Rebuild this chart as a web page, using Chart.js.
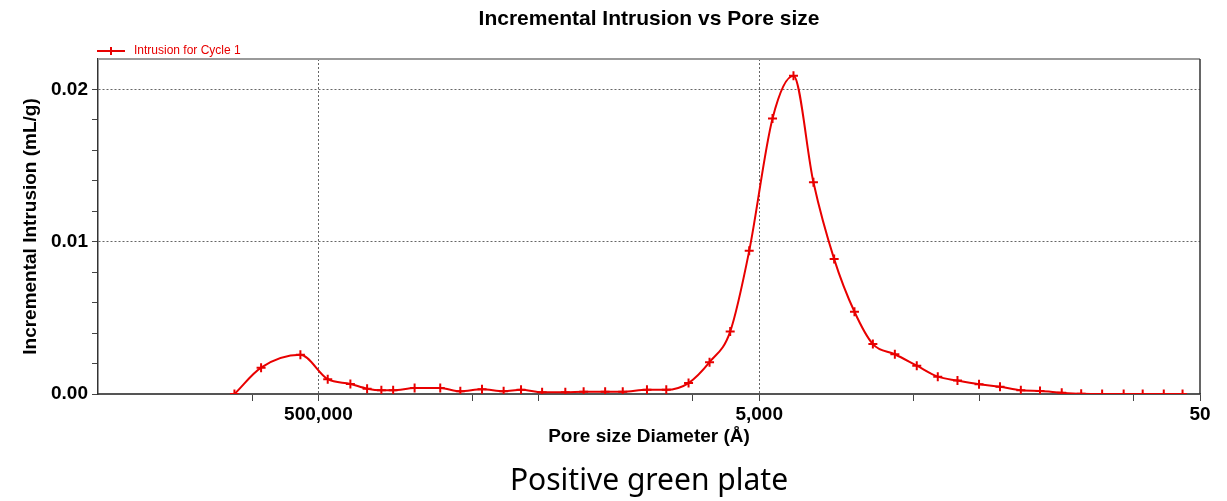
<!DOCTYPE html>
<html>
<head>
<meta charset="utf-8">
<script src="https://cdn.jsdelivr.net/npm/chart.js@4.4.1/dist/chart.umd.min.js"></script>
<style>
  body { margin: 0; background: #fff; }
  #wrap { position: relative; width: 1227px; height: 501px; }
</style>
</head>
<body>
<div id="wrap"><canvas id="myChart"></canvas></div>
<script>
// pore size diameter (Å) and incremental intrusion (mL/g)
const poreSize = [1202000, 910000, 603500, 453600, 358000, 300600, 259000, 229000, 183000, 140000,
    113500, 90500, 72200, 60200, 48300, 37900, 31300, 25000, 20800, 16150,
    13200, 10460, 8400, 6770, 5550, 4350, 3495, 2837, 2285, 1848,
    1525, 1212, 964, 774, 630, 503, 404, 325, 266, 212,
    173, 139, 111, 91, 73, 60];
const intrusion = [0, 0.00173, 0.00257, 0.00097, 0.00066, 0.00035, 0.00024, 0.00024, 0.00039, 0.00039,
    0.00018, 0.00031, 0.00018, 0.00028, 0.00011, 0.00011, 0.00015, 0.00015, 0.00015, 0.00028,
    0.00028, 0.00072, 0.00209, 0.0041, 0.0094, 0.0181, 0.0209, 0.0139, 0.00886, 0.0054,
    0.00328, 0.00261, 0.00186, 0.00114, 0.00088, 0.00064, 0.00048, 0.00024, 0.0002, 0.00009,
    0.00002, 0, 0, 0, 0, 0];

const xTicks = [1000000, 500000, 100000, 50000, 10000, 5000, 1000, 500, 100, 50];
const xLabelled = [500000, 5000, 50];
const yTicks = [0, 0.002, 0.004, 0.006, 0.008, 0.01, 0.012, 0.014, 0.016, 0.018, 0.02];
const yLabelled = [0, 0.01, 0.02];

const seriesName = 'Intrusion for Cycle 1';
const red = 'rgb(232,0,0)';
const bold = (size) => ({ family: 'Liberation Sans, Arial, sans-serif', size: size, weight: 'bold' });

// frame on top and right + the little legend at the top left
const framePlugin = {
    id: 'frame',
    beforeDatasetsDraw(chart) {
        const a = chart.chartArea, c = chart.ctx;
        c.save();
        c.strokeStyle = '#9a9a9a';
        c.lineWidth = 2;
        c.beginPath();
        c.moveTo(a.left, a.top);
        c.lineTo(a.right, a.top);
        c.stroke();
        c.strokeStyle = '#333';
        c.lineWidth = 1.5;
        c.beginPath();
        c.moveTo(a.right, a.top);
        c.lineTo(a.right, a.bottom);
        c.stroke();
        c.restore();
    },
    afterDraw(chart) {
        const c = chart.ctx;
        const y = 51;
        c.save();
        c.strokeStyle = red;
        c.lineWidth = 2;
        c.beginPath();
        c.moveTo(97, y);
        c.lineTo(125, y);
        c.moveTo(111, y - 4);
        c.lineTo(111, y + 4);
        c.stroke();
        c.fillStyle = red;
        c.font = '12px "Liberation Sans", Arial, sans-serif';
        c.textBaseline = 'middle';
        c.fillText(seriesName, 134, y);
        c.restore();
    }
};

const ctx = document.getElementById('myChart').getContext('2d');
const myChart = new Chart(ctx, {
    type: 'line',
    data: {
        datasets: [{
            label: seriesName,
            data: poreSize.map((p, i) => ({ x: p, y: intrusion[i] })),
            borderColor: red,
            backgroundColor: red,
            borderWidth: 2,
            cubicInterpolationMode: 'monotone',
            pointStyle: 'cross',
            pointRadius: 4.5,
            pointBorderWidth: 2,
            pointBorderColor: red,
            fill: false
        }]
    },
    plugins: [framePlugin],
    options: {
        responsive: true,
        maintainAspectRatio: false,
        animation: false,
        layout: { padding: { top: 0, right: 27, left: 0, bottom: 0 } },
        plugins: {
            legend: { display: false },
            tooltip: { enabled: false },
            title: {
                display: true,
                fullSize: false,
                text: 'Incremental Intrusion vs Pore size',
                color: '#000',
                font: bold(21),
                padding: { top: 7, bottom: 26.8 }
            },
            subtitle: {
                display: true,
                fullSize: false,
                position: 'bottom',
                text: 'Positive green plate',
                color: '#000',
                font: { family: 'Noto Sans, sans-serif', size: 30 },
                padding: { top: 0, bottom: 2 }
            }
        },
        scales: {
            x: {
                type: 'logarithmic',
                reverse: true,
                min: 50,
                max: 5000000,
                afterBuildTicks: (scale) => { scale.ticks = xTicks.map(v => ({ value: v })); },
                afterFit: (scale) => { scale.height = 69; },
                ticks: {
                    autoSkip: false,
                    maxRotation: 0,
                    minRotation: 0,
                    padding: 2,
                    color: '#000',
                    font: bold(19),
                    callback: (v) => xLabelled.includes(v) ? v.toLocaleString('en-US') : ''
                },
                grid: {
                    color: (c) => (c.tick && [500000, 5000].includes(c.tick.value)) ? '#666' : 'rgba(0,0,0,0)',
                    lineWidth: 1,
                    tickLength: 7,
                    tickColor: '#444',
                    tickWidth: 1
                },
                border: { color: '#555', width: 2, dash: [2, 2] },
                title: {
                    display: true,
                    text: 'Pore size Diameter (Å)',
                    color: '#000',
                    font: bold(19),
                    padding: { top: 0, bottom: 14.6 }
                }
            },
            y: {
                min: 0,
                max: 0.022,
                afterBuildTicks: (scale) => { scale.ticks = yTicks.map(v => ({ value: v })); },
                afterFit: (scale) => { scale.width = 98; },
                ticks: {
                    padding: 4,
                    color: '#000',
                    font: bold(19),
                    callback: (v) => yLabelled.some(t => Math.abs(t - v) < 1e-9) ? v.toFixed(2) : ''
                },
                grid: {
                    color: (c) => (c.tick && c.tick.value > 0.001 && yLabelled.some(t => Math.abs(t - c.tick.value) < 1e-9)) ? '#666' : 'rgba(0,0,0,0)',
                    lineWidth: 1,
                    tickLength: 6,
                    tickColor: '#444',
                    tickWidth: 1
                },
                border: { color: '#333', width: 1.5, dash: [2, 2] },
                title: {
                    display: true,
                    text: 'Incremental Intrusion (mL/g)',
                    color: '#000',
                    font: bold(19),
                    padding: { top: 19, bottom: 0 }
                }
            }
        }
    }
});
</script>
</body>
</html>
